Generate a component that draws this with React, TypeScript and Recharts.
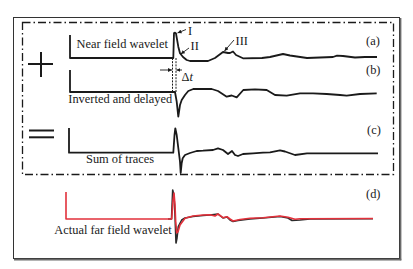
import React from 'react';
import { LineChart, Line, XAxis, YAxis, Customized } from 'recharts';

const W = 413;
const H = 269;

// time axis in samples, 0 = near-field peak
const nearTime = [-104, -104, -0.7, 0, 1, 2, 4.3, 6, 9, 12.7, 16, 34, 41, 49, 54, 56, 59, 62, 69, 88, 96, 109, 116, 133, 146, 159, 163, 169, 181, 191, 203];
const nearAmp = [23, 0, 0, 25, 25.3, 24.5, 11.3, 4.7, 1, -2, -3, -3, 0, 6, 5, 5, 6.5, 3, -0.3, 0, 1, 4, 2.5, 0, 0.5, 1, 2.3, 2, 0.5, 1, 1];

const invTime = [-104, -104, 1, 2.7, 4.3, 6, 7.7, 11, 14.3, 19.3, 37.7, 44, 52.7, 57.7, 62.7, 69.3, 81, 92.7, 101, 112.7, 126, 139, 152.7, 166, 172.7, 186, 202.7];
const invAmp = [22, 0, 0, -9.7, -24.7, -13, -8, -3, 1, 3, 3, 1, -4.7, -3.5, -5.3, 2, 2.7, 2, -3, -3.7, -1.3, -1.3, -2, -3, -3.7, -2, -1.3];

const sumTime = [-105, -105, -0.7, 0.5, 1.3, 2.7, 4.3, 6, 6.7, 7.7, 8.7, 11, 16, 22.7, 29, 39, 44, 49, 54, 58, 61, 64, 69, 79, 89, 96, 106, 111, 121, 133, 204];
const sumAmp = [24.7, 0, 0, 17.7, 24.4, 17.7, 4.7, -9, -20.3, -10.3, -5.6, -2.3, -0.3, 1.7, 2, 2.7, 4.4, 2.7, -1.3, 1.7, -2.3, -3.3, -1.3, -0.6, 0, 0.4, 2.4, 1.2, -2.3, -0.6, -0.6];

const farModelTime = [-6, -2.5, -1.3, 0, 1, 2, 3, 4.3, 7.7, 11, 19, 29, 36, 44, 49, 53, 56, 59, 64, 76, 89, 106, 114, 118, 126, 136, 199];
const farModelAmp = [0, 0, 29, 23, 4, -24, -19, -7.7, -1, 1, 2.5, 3.5, 4, 5, 1, 2, -1, -2.5, -1.5, 0, 1, 2.5, 1, -1.5, -1, 0, 0.3];

const farActualTime = [-108, -108, -2.3, -1, 0, 1, 1.7, 2.7, 4, 6, 11, 19, 29, 36, 41, 44, 49, 53, 56, 59, 66, 76, 89, 106, 114, 121, 126, 199];
const farActualAmp = [27, 0, 0, 19, 26, 14, -2.7, -14, -12.7, -6, 0.7, 3, 4, 4.2, 3, 5, 1.3, 2.3, 0, -2, -0.5, 0.7, 1.3, 3, 1.7, -0.3, 0.2, 0.5];

const traceLabels = ['Near field wavelet', 'Inverted and delayed', 'Sum of traces', 'Actual far field wavelet'];
const panelLabels = ['(a)', '(b)', '(c)', '(d)'];
const pointLabels = ['I', 'II', 'III'];

const zip = (t: number[], v: number[]) => t.map((x, i) => ({ t: x, v: v[i] }));
const nearData = zip(nearTime, nearAmp);
const invData = zip(invTime, invAmp);
const sumData = zip(sumTime, sumAmp);
const farModelData = zip(farModelTime, farModelAmp);
const farActualData = zip(farActualTime, farActualAmp);

const INK = '#1a1a1a';
const RED = '#e2313b';
const FONT = "'Liberation Serif', 'Times New Roman', serif";
const FS = 12.4;

function Decor() {
  const txt = { fontFamily: FONT, fontSize: FS, fill: INK } as const;
  return (
    <g>
      <defs>
        <marker id="ah" viewBox="0 0 6 6" refX="6" refY="3" markerWidth="4.5" markerHeight="4.5" orient="auto">
          <path d="M0,0 L6,3 L0,6 z" fill={INK} />
        </marker>
      </defs>
      <rect x={13.5} y={17.5} width={386} height={241} fill="none" stroke="#333" strokeWidth={1} />
      <line x1={400.6} y1={18} x2={400.6} y2={260.3} stroke="#6a6a6a" strokeWidth={1.6} />
      <line x1={14} y1={259.6} x2={401.3} y2={259.6} stroke="#6a6a6a" strokeWidth={1.6} />
      <rect x={22.5} y={22.5} width={371} height={152} fill="none" stroke={INK} strokeWidth={1.3} strokeDasharray="8 3 1.5 3" />
      <line x1={28} y1={64} x2={53} y2={64} stroke={INK} strokeWidth={2} />
      <line x1={41} y1={52} x2={41} y2={77} stroke={INK} strokeWidth={2} />
      <line x1={29} y1={130.5} x2={54} y2={130.5} stroke={INK} strokeWidth={2} />
      <line x1={29} y1={137.3} x2={54} y2={137.3} stroke={INK} strokeWidth={2} />
      <line x1={172.5} y1={58} x2={172.5} y2={92} stroke={INK} strokeWidth={1} strokeDasharray="2 1.2" />
      <line x1={176} y1={58} x2={176} y2={92} stroke={INK} strokeWidth={1} strokeDasharray="2 1.2" />
      <line x1={160} y1={70} x2={172} y2={70} stroke={INK} strokeWidth={0.9} markerEnd="url(#ah)" />
      <line x1={182} y1={70} x2={176.4} y2={70} stroke={INK} strokeWidth={0.9} markerEnd="url(#ah)" />
      <line x1={186} y1={29.5} x2={177.5} y2={33} stroke={INK} strokeWidth={0.9} markerEnd="url(#ah)" />
      <line x1={189} y1={48} x2={180.8} y2={54} stroke={INK} strokeWidth={0.9} markerEnd="url(#ah)" />
      <line x1={234} y1={40} x2={224.5} y2={51} stroke={INK} strokeWidth={0.9} markerEnd="url(#ah)" />
      <text x={188} y={35} {...txt}>{pointLabels[0]}</text>
      <text x={190.5} y={50} {...txt}>{pointLabels[1]}</text>
      <text x={235.5} y={45} {...txt}>{pointLabels[2]}</text>
      <text x={181.5} y={81} {...txt}>Δ<tspan fontStyle="italic">t</tspan></text>
      <text x={76.5} y={48.3} {...txt}>{traceLabels[0]}</text>
      <text x={68.3} y={102.7} {...txt}>{traceLabels[1]}</text>
      <text x={86} y={163} {...txt}>{traceLabels[2]}</text>
      <text x={54.3} y={233.5} {...txt}>{traceLabels[3]}</text>
      <text x={366} y={44.5} {...txt}>{panelLabels[0]}</text>
      <text x={366} y={74} {...txt}>{panelLabels[1]}</text>
      <text x={367} y={133.5} {...txt}>{panelLabels[2]}</text>
      <text x={366} y={197.5} {...txt}>{panelLabels[3]}</text>
    </g>
  );
}

const base = { a: 58, b: 92, c: 152.7, d: 219 };
const common = { type: 'linear' as const, dot: false, activeDot: false, isAnimationActive: false, dataKey: 'v', strokeLinejoin: 'round' as const };

export default function App() {
  return (
    <div style={{ width: W, height: H, background: '#fff' }}>
      <style>{'body{margin:0;background:#fff}'}</style>
      <LineChart width={W} height={H} margin={{ top: 0, right: 0, bottom: 0, left: 0 }}>
        <XAxis type="number" dataKey="t" domain={[-174, 239]} hide allowDataOverflow />
        <YAxis yAxisId="a" type="number" domain={[base.a - H, base.a]} hide allowDataOverflow />
        <YAxis yAxisId="b" type="number" domain={[base.b - H, base.b]} hide allowDataOverflow />
        <YAxis yAxisId="c" type="number" domain={[base.c - H, base.c]} hide allowDataOverflow />
        <YAxis yAxisId="d" type="number" domain={[base.d - H, base.d]} hide allowDataOverflow />
        <YAxis yAxisId="d2" type="number" domain={[base.d - H, base.d]} hide allowDataOverflow />
        <Customized component={<Decor />} />
        <Line {...common} yAxisId="a" data={nearData} stroke={INK} strokeWidth={1.8} />
        <Line {...common} yAxisId="b" data={invData} stroke={INK} strokeWidth={1.8} />
        <Line {...common} yAxisId="c" data={sumData} stroke={INK} strokeWidth={1.8} />
        <Line {...common} yAxisId="d" data={farModelData} stroke="#2b2b2b" strokeWidth={1.6} />
        <Line {...common} yAxisId="d2" data={farActualData} stroke={RED} strokeWidth={1.6} />
      </LineChart>
    </div>
  );
}
